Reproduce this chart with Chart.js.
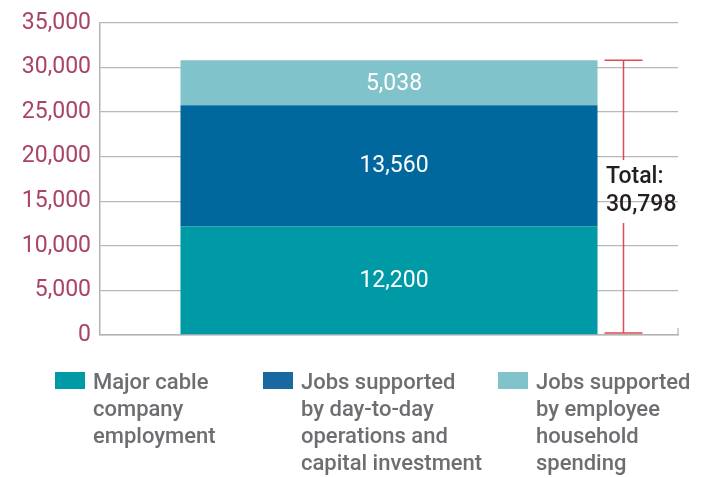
<!DOCTYPE html>
<html><head><meta charset="utf-8">
<script src="https://cdn.jsdelivr.net/npm/chart.js@4"></script>
<style>html,body{margin:0;padding:0;background:#fff}#wrap{width:709px;height:478px}</style>
</head><body><div id="wrap"><canvas id="c" width="709" height="478"></canvas></div>
<script>
const categories = ['Jobs'];
const seriesLabels = [
  ['Major cable', 'company', 'employment'],
  ['Jobs supported', 'by day-to-day', 'operations and', 'capital investment'],
  ['Jobs supported', 'by employee', 'household', 'spending']
];
const majorCableEmployment = [12200];
const dayToDayOperations = [13560];
const householdSpending = [5038];
const totalJobs = [30798];
const totalLabel = ['Total:', '30,798'];
const yMax = 35000;
const yStep = 5000;

const colors = ['#009aa6', '#00689c', '#80c3ca'];
const legendColors = ['#009aa6', '#17699f', '#80c3ca'];
const FONT = 'Roboto';

const fmt = v => Number(v).toLocaleString('en-US');

const overlay = {
  id: 'overlay',
  afterDatasetsDraw(chart) {
    const ctx = chart.ctx;
    ctx.save();
    ctx.fillStyle = '#ffffff';
    ctx.font = '23px ' + FONT;
    ctx.textAlign = 'center';
    ctx.textBaseline = 'middle';
    chart.data.datasets.forEach((ds, i) => {
      const meta = chart.getDatasetMeta(i);
      meta.data.forEach((bar, j) => {
        const p = bar.getProps(['x', 'y', 'base'], true);
        ctx.fillText(fmt(ds.data[j]), p.x + 5, (p.y + p.base) / 2 + 1);
      });
    });
    ctx.restore();
  },
  afterDraw(chart) {
    const ctx = chart.ctx;
    const ys = chart.scales.y;
    const area = chart.chartArea;
    const tx = 623.5;
    const yTop = ys.getPixelForValue(totalJobs[0]);
    const yBot = ys.getPixelForValue(0) - 2;
    ctx.save();
    ctx.strokeStyle = '#e04a50';
    ctx.lineWidth = 1.5;
    ctx.beginPath();
    ctx.moveTo(tx - 19, yTop); ctx.lineTo(tx + 19, yTop);
    ctx.moveTo(tx - 19, yBot); ctx.lineTo(tx + 19, yBot);
    ctx.moveTo(tx, yTop); ctx.lineTo(tx, 160);
    ctx.moveTo(tx, 223); ctx.lineTo(tx, yBot);
    ctx.stroke();
    ctx.fillStyle = '#231f20';
    ctx.font = '500 23px ' + FONT;
    ctx.textAlign = 'left';
    ctx.textBaseline = 'middle';
    ctx.fillText(totalLabel[0], 606, 177);
    ctx.fillText(totalLabel[1], 606, 205);
    ctx.strokeStyle = '#b3b3b6';
    ctx.lineWidth = 1.2;
    ctx.beginPath();
    ctx.moveTo(area.right, area.bottom - 7); ctx.lineTo(area.right, area.bottom);
    ctx.stroke();
    const xs = [55, 263, 498];
    ctx.font = '500 22px ' + FONT;
    chart.data.datasets.forEach((ds, i) => {
      ctx.fillStyle = legendColors[i];
      ctx.fillRect(xs[i], 372, 30, 17);
      ctx.fillStyle = '#6d6e71';
      ds.label.forEach((line, k) => {
        ctx.fillText(line, xs[i] + 38, 383 + k * 27.3);
      });
    });
    ctx.restore();
  }
};

new Chart(document.getElementById('c'), {
  type: 'bar',
  data: {
    labels: categories,
    datasets: [
      { label: seriesLabels[0], data: majorCableEmployment, backgroundColor: colors[0] },
      { label: seriesLabels[1], data: dayToDayOperations, backgroundColor: colors[1] },
      { label: seriesLabels[2], data: householdSpending, backgroundColor: colors[2] }
    ]
  },
  options: {
    responsive: false,
    animation: false,
    layout: { padding: { left: 0, right: 31, top: 22, bottom: 143 } },
    datasets: { bar: { categoryPercentage: 1, barPercentage: 0.7215, borderWidth: 0 } },
    plugins: { legend: { display: false }, tooltip: { enabled: false } },
    scales: {
      x: {
        stacked: true,
        ticks: { display: false },
        grid: { display: false },
        border: { display: true, color: '#b3b3b6', width: 1.5 },
        afterFit(s) { s.height = 0; }
      },
      y: {
        stacked: true,
        min: 0, max: yMax,
        ticks: { stepSize: yStep, color: '#a94464', font: { family: FONT, size: 23 }, padding: 9, callback: v => fmt(v) },
        grid: { color: '#b8b8bb', lineWidth: 1.3, drawTicks: false },
        border: { display: true, color: '#b3b3b6', width: 1.5 },
        afterFit(s) { s.width = 100; }
      }
    }
  },
  plugins: [overlay]
});
</script></body></html>
